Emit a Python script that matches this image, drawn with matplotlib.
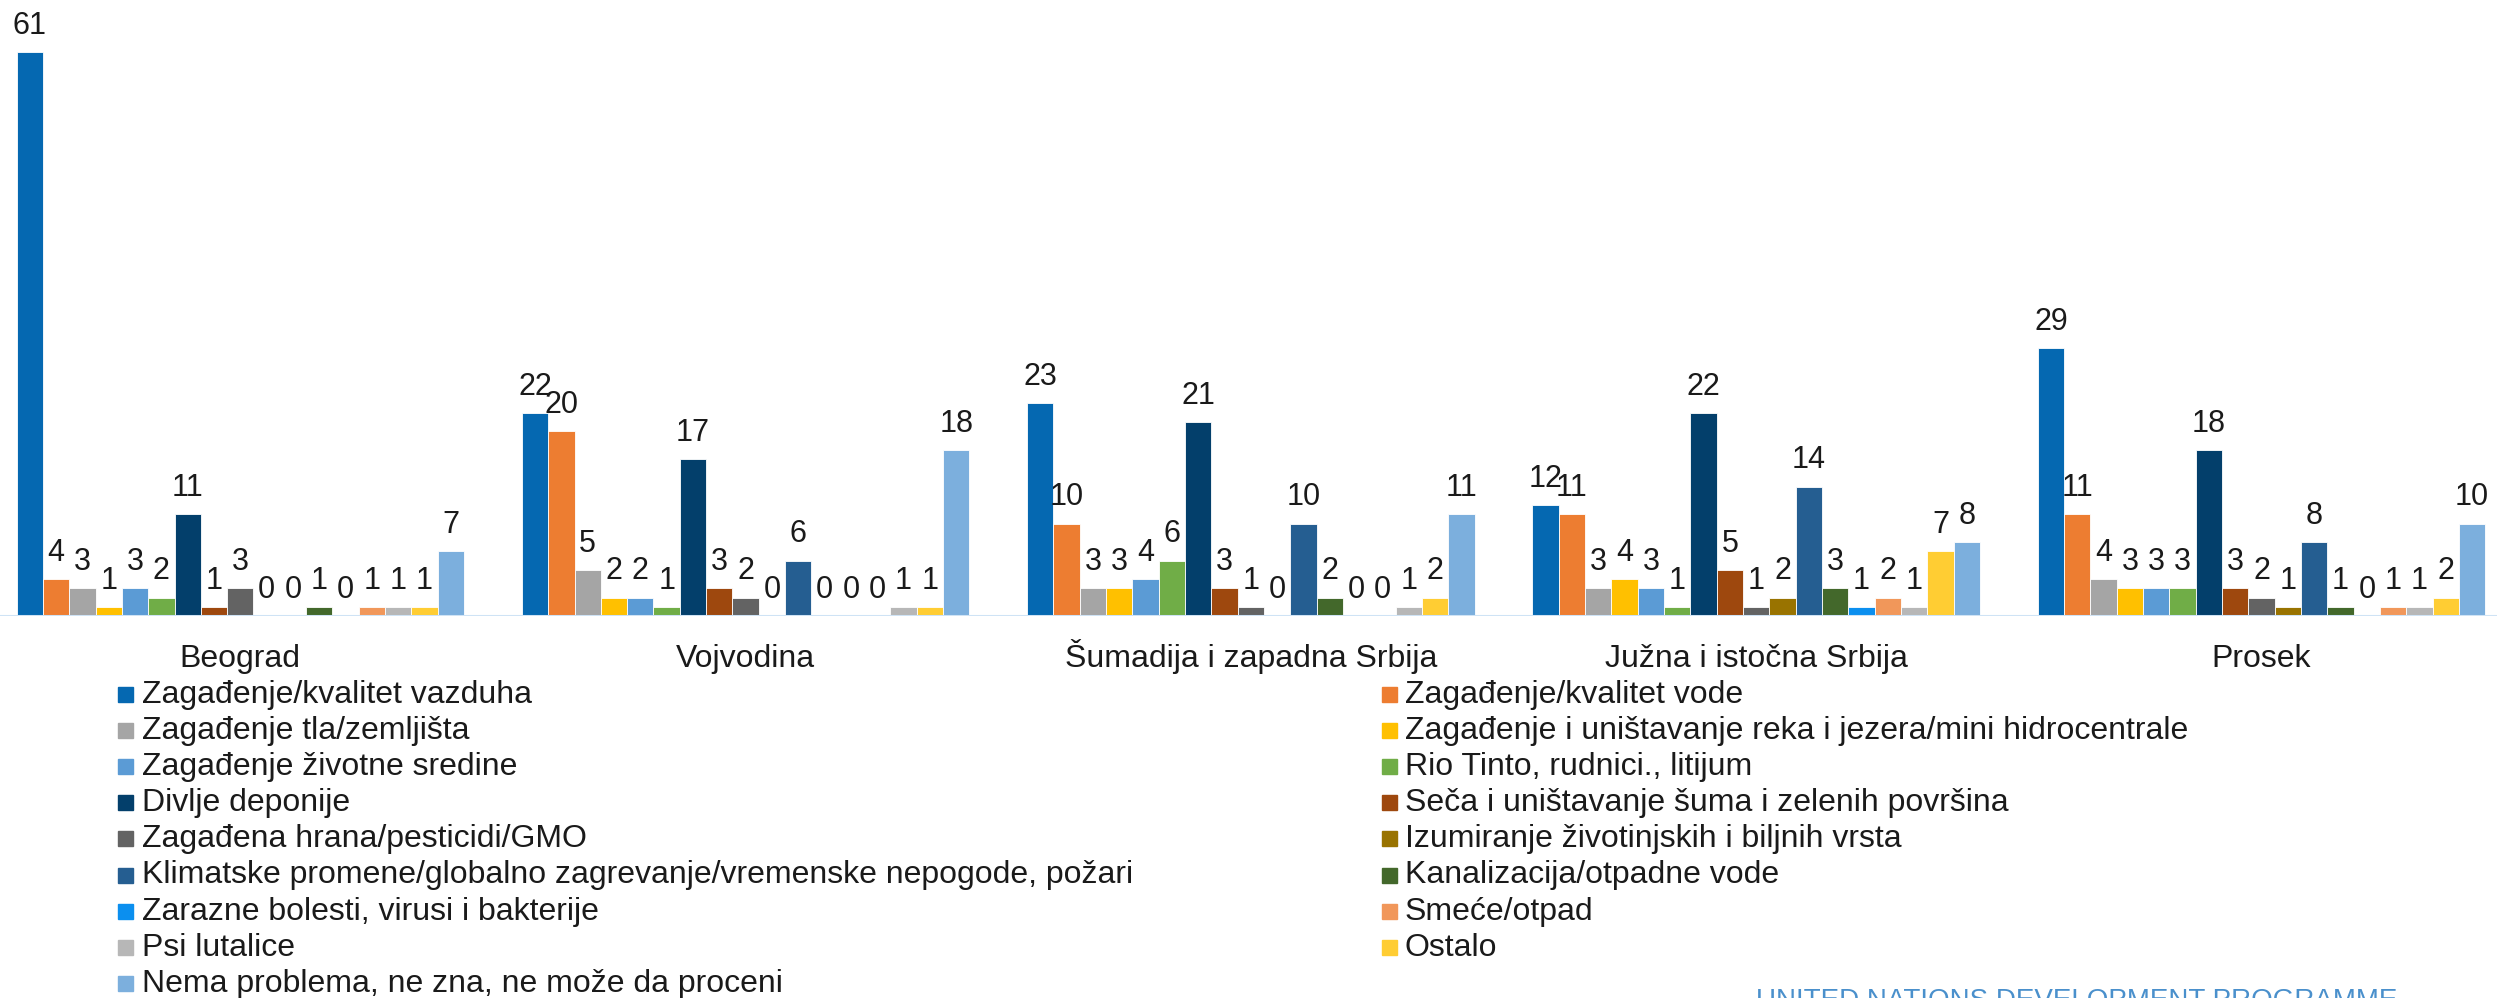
import matplotlib
matplotlib.use("Agg")
import matplotlib.pyplot as plt
import matplotlib.transforms as mtransforms
from matplotlib.patches import Rectangle
import numpy as np

plt.rcParams['font.family'] = ['Liberation Sans', 'DejaVu Sans']

regions = ['Beograd', 'Vojvodina', 'Šumadija i zapadna Srbija',
           'Južna i istočna Srbija', 'Prosek']

problems = [
    'Zagađenje/kvalitet vazduha',
    'Zagađenje/kvalitet vode',
    'Zagađenje tla/zemljišta',
    'Zagađenje i uništavanje reka i jezera/mini hidrocentrale',
    'Zagađenje životne sredine',
    'Rio Tinto, rudnici., litijum',
    'Divlje deponije',
    'Seča i uništavanje šuma i zelenih površina',
    'Zagađena hrana/pesticidi/GMO',
    'Izumiranje životinjskih i biljnih vrsta',
    'Klimatske promene/globalno zagrevanje/vremenske nepogode, požari',
    'Kanalizacija/otpadne vode',
    'Zarazne bolesti, virusi i bakterije',
    'Smeće/otpad',
    'Psi lutalice',
    'Ostalo',
    'Nema problema, ne zna, ne može da proceni',
]

colors = ['#0568B1', '#ED7D31', '#A5A5A5', '#FFC000', '#5B9BD5', '#70AD47',
          '#033F6B', '#9E480E', '#636363', '#997300', '#255E91', '#43682B',
          '#0B8FEF', '#F1975A', '#B7B7B7', '#FFCD33', '#7CAFDD']

# one row per region, one column per problem
beograd = [61, 4, 3, 1, 3, 2, 11, 1, 3, 0, 0, 1, 0, 1, 1, 1, 7]
vojvodina = [22, 20, 5, 2, 2, 1, 17, 3, 2, 0, 6, 0, 0, 0, 1, 1, 18]
sumadija = [23, 10, 3, 3, 4, 6, 21, 3, 1, 0, 10, 2, 0, 0, 1, 2, 11]
juzna = [12, 11, 3, 4, 3, 1, 22, 5, 1, 2, 14, 3, 1, 2, 1, 7, 8]
prosek = [29, 11, 4, 3, 3, 3, 18, 3, 2, 1, 8, 1, 0, 1, 1, 2, 10]

values = np.array([beograd, vojvodina, sumadija, juzna, prosek])

W, H = 2497, 998
fig = plt.figure(figsize=(W / 100, H / 100), dpi=100)

base_px = 616  # axis baseline, pixels from top
ax = fig.add_axes([0, 1 - base_px / H, 1, 601 / H])
ax.set_ylim(0, 65)
ax.set_xlim(-0.4756, 4.466)
ax.axis('off')

x = np.arange(len(regions))
n = len(problems)
bw = 0.0521
for k in range(n):
    xs = x + (k - (n - 1) / 2) * bw
    ax.bar(xs, values[:, k], width=bw, color=colors[k], linewidth=0.6,
           edgecolor='white', zorder=2)
    for xi, v in zip(xs, values[:, k]):
        ax.annotate(str(v), (xi, v), xytext=(0, 13), textcoords='offset points',
                    ha='center', va='baseline', fontsize=22, color='#1a1a1a')

# baseline
ax.axhline(0, color='#CFE3F5', linewidth=2.2, zorder=3)

# category labels
trans = mtransforms.blended_transform_factory(ax.transData, fig.transFigure)
for xi, name in zip(x, regions):
    ax.text(xi, 1 - 667 / H, name, transform=trans, ha='center', va='baseline',
            fontsize=23, color='#1a1a1a')

# legend, filled row by row in two columns
for i, (name, c) in enumerate(zip(problems, colors)):
    row, col = divmod(i, 2)
    sq_x = 118 if col == 0 else 1382
    tx = 142 if col == 0 else 1405
    cy = 694.5 + 36.1 * row
    fig.patches.append(Rectangle((sq_x / W, 1 - (cy + 7.5) / H), 15 / W, 15 / H,
                                 transform=fig.transFigure, color=c))
    fig.text(tx / W, 1 - (cy + 8.5) / H, name, ha='left', va='baseline',
             fontsize=23, color='#1a1a1a')

fig.text(1756 / W, 1 - 1008 / H, 'UNITED NATIONS DEVELOPMENT PROGRAMME',
         ha='left', va='baseline', fontsize=20, color='#4A90CC')

fig.savefig('out.png', dpi=100)
